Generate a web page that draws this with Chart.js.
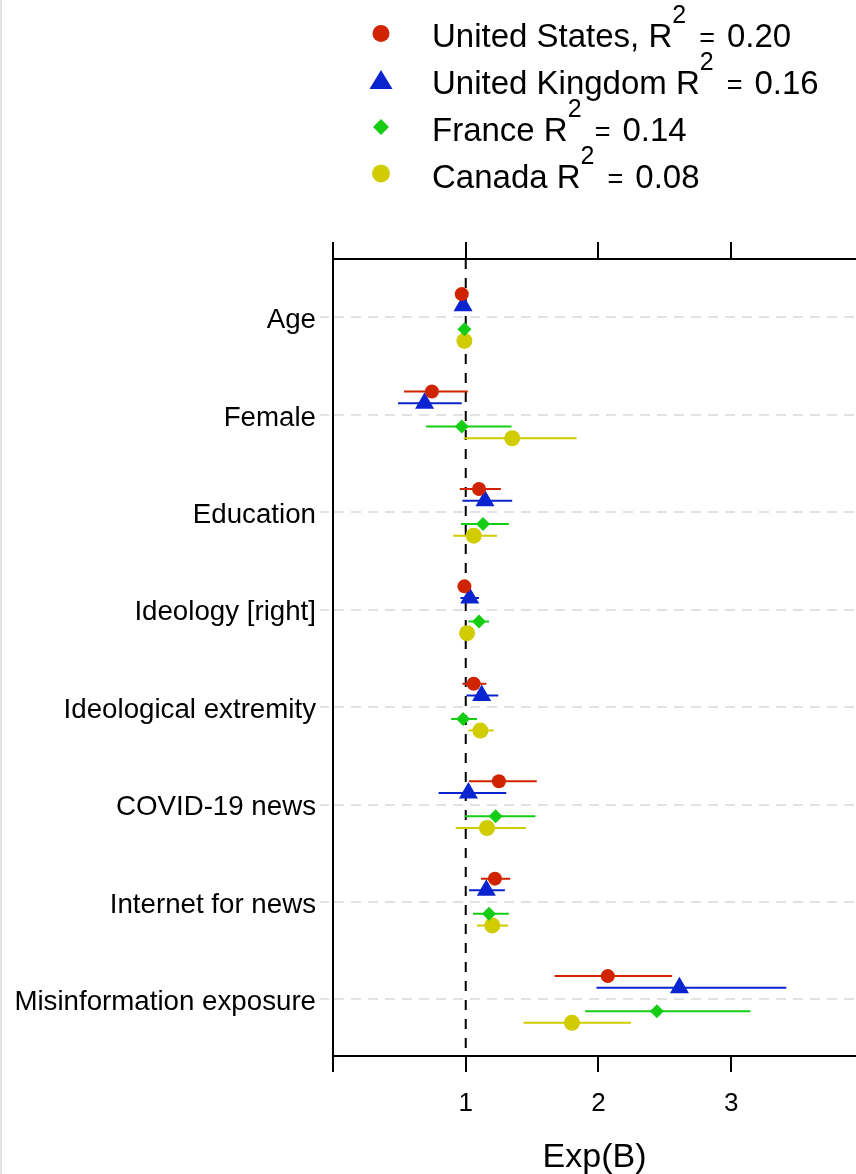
<!DOCTYPE html>
<html>
<head>
<meta charset="utf-8">
<script src="https://cdn.jsdelivr.net/npm/chart.js@4.4.1/dist/chart.umd.min.js"></script>
<style>
  html, body { margin: 0; padding: 0; background: #fff; overflow: hidden; }
  #page { position: relative; width: 856px; height: 1174px; font-family: "Liberation Sans", Arial, sans-serif; color: #000; }
  #chartBox { position: absolute; left: 0; top: 0; width: 856px; height: 1174px; }
  #edge { position: absolute; left: 0; top: 0; width: 2px; height: 1174px; background: #e2e2e2; }
  .legend { position: absolute; left: 361px; top: 11.7px; font-size: 33px; line-height: 47.2px; }
  .row { position: relative; height: 47.2px; padding-left: 71px; white-space: nowrap; }
  .row svg { position: absolute; left: 0; top: 0; }
  .sup { font-size: 25px; vertical-align: 24px; line-height: 0; }
  .eq { font-size: 27px; margin: 0 12px 0 13px; }
</style>
</head>
<body>
<div id="page">
  <div id="edge"></div>
  <div id="chartBox"><canvas id="myChart"></canvas></div>
  <div class="legend">
    <div class="row"><svg width="40" height="47"><circle cx="20" cy="21.5" r="8.5" fill="#d02400"/></svg>United States, R<span class="sup">2</span><span class="eq">=</span>0.20</div>
    <div class="row"><svg width="40" height="47"><polygon points="8.5,30 31.5,30 20,11" fill="#0a24d0"/></svg>United Kingdom R<span class="sup">2</span><span class="eq">=</span>0.16</div>
    <div class="row"><svg width="40" height="47"><polygon points="20,13 28,21 20,29 12,21" fill="#14cd14"/></svg>France R<span class="sup">2</span><span class="eq">=</span>0.14</div>
    <div class="row"><svg width="40" height="47"><circle cx="20" cy="20.5" r="9" fill="#d0cc00"/></svg>Canada R<span class="sup">2</span><span class="eq">=</span>0.08</div>
  </div>
</div>
<script>
// ------>categories and tick labels<--
const categories = ['Age', 'Female', 'Education', 'Ideology [right]', 'Ideological extremity',
  'COVID-19 news', 'Internet for news', 'Misinformation exposure'];
const xTicks = [0, 1, 2, 3];
const xTickLabels = ['', '1', '2', '3'];

// ------>Exp(B) estimates with lower / upper bounds<--
const usEst  = [0.970, 0.745, 1.100, 0.990, 1.060, 1.250, 1.220, 2.070];
const usLow  = [0.955, 0.535, 0.955, 0.955, 0.975, 1.025, 1.115, 1.670];
const usHigh = [0.985, 1.015, 1.265, 1.025, 1.155, 1.535, 1.335, 2.555];

const ukEst  = [0.980, 0.690, 1.145, 1.030, 1.120, 1.020, 1.155, 2.610];
const ukLow  = [0.965, 0.490, 0.975, 0.960, 1.005, 0.795, 1.025, 1.985];
const ukHigh = [0.995, 0.970, 1.350, 1.100, 1.245, 1.305, 1.295, 3.415];

const frEst  = [0.990, 0.970, 1.130, 1.100, 0.980, 1.225, 1.175, 2.440];
const frLow  = [0.975, 0.700, 0.965, 1.020, 0.890, 0.995, 1.055, 1.900];
const frHigh = [1.005, 1.345, 1.325, 1.175, 1.085, 1.525, 1.325, 3.145];

const caEst  = [0.990, 1.350, 1.060, 1.010, 1.110, 1.160, 1.200, 1.800];
const caLow  = [0.975, 0.985, 0.905, 0.975, 1.020, 0.925, 1.085, 1.435];
const caHigh = [1.005, 1.835, 1.235, 1.045, 1.210, 1.455, 1.320, 2.245];

// ------>how each country is drawn<--
const series = [
  { est: usEst, low: usLow, high: usHigh, color: '#d02400', style: 'circle',   radius: 7,  off: -0.24 },
  { est: ukEst, low: ukLow, high: ukHigh, color: '#0a24d0', style: 'triangle', radius: 11, off: -0.12 },
  { est: frEst, low: frLow, high: frHigh, color: '#14cd14', style: 'rectRot',  radius: 7,  off: 0.12 },
  { est: caEst, low: caLow, high: caHigh, color: '#d0cc00', style: 'circle',   radius: 8,  off: 0.24 }
];

const font = 'Liberation Sans, Arial, sans-serif';

// interval lines: one segment per category, broken by null points
function intervalPoints(s) {
  const pts = [];
  categories.forEach((c, i) => {
    pts.push({ x: s.low[i], y: i + s.off }, { x: s.high[i], y: i + s.off }, { x: null, y: null });
  });
  return pts;
}

const datasets = [{
  type: 'line',
  data: [{ x: 1, y: -0.6 }, { x: 1, y: 7.58 }],
  borderColor: '#000', borderWidth: 2, borderDash: [10, 9],
  pointRadius: 0, order: 3
}];

for (const s of series) {
  datasets.push({
    type: 'line',
    data: intervalPoints(s),
    borderColor: s.color, borderWidth: 2, spanGaps: false,
    pointRadius: 0, order: 2
  });
}
for (const s of series) {
  datasets.push({
    type: 'scatter',
    data: categories.map((c, i) => ({ x: s.est[i], y: i + s.off })),
    backgroundColor: s.color, borderWidth: 0,
    pointStyle: s.style, pointRadius: s.radius, order: 1
  });
}

// no extra room for tick labels at the ends of the x axes
function noSidePadding(s) {
  s.paddingLeft = 0;
  s.paddingRight = 0;
}

const ctx = document.getElementById('myChart').getContext('2d');
new Chart(ctx, {
  type: 'scatter',
  data: { datasets },
  options: {
    responsive: true,
    maintainAspectRatio: false,
    devicePixelRatio: 1,
    animation: false,
    events: [],
    layout: { autoPadding: false, padding: { top: 242, left: 0, right: 0, bottom: 0 } },
    plugins: { legend: { display: false }, tooltip: { enabled: false } },
    scales: {
      x: {
        type: 'linear', position: 'bottom', min: 0, max: 3.94,
        afterBuildTicks: s => { s.ticks = xTicks.map(v => ({ value: v })); },
        afterFit: s => { s.height = 118; noSidePadding(s); },
        ticks: { callback: (v, i) => xTickLabels[i], color: '#000', padding: 16, maxRotation: 0,
          font: { family: font, size: 26 } },
        grid: { drawOnChartArea: false, color: '#000', lineWidth: 2, tickLength: 16 },
        border: { color: '#000', width: 2 },
        title: { display: true, text: 'Exp(B)', color: '#000', padding: { top: 0, bottom: -4 },
          font: { family: font, size: 34 } }
      },
      x2: {
        type: 'linear', position: 'top', min: 0, max: 3.94,
        afterBuildTicks: s => { s.ticks = xTicks.map(v => ({ value: v })); },
        afterFit: s => { s.height = 17; noSidePadding(s); },
        ticks: { display: false },
        grid: { drawOnChartArea: false, color: '#000', lineWidth: 2, tickLength: 17 },
        border: { color: '#000', width: 2 }
      },
      y: {
        type: 'linear', reverse: true, min: -0.6, max: 7.58,
        afterBuildTicks: s => { s.ticks = categories.map((c, i) => ({ value: i })); },
        afterFit: s => { s.width = 333; },
        ticks: { callback: v => categories[v], color: '#000', padding: 4, autoSkip: false, labelOffset: 3,
          font: { family: font, size: 27.7 } },
        grid: { color: '#e2e2e2', lineWidth: 2, tickLength: 13, tickColor: '#e2e2e2', tickBorderDash: [9, 6] },
        border: { color: '#000', width: 2, dash: [10, 7] }
      }
    }
  }
});
</script>
</body>
</html>
